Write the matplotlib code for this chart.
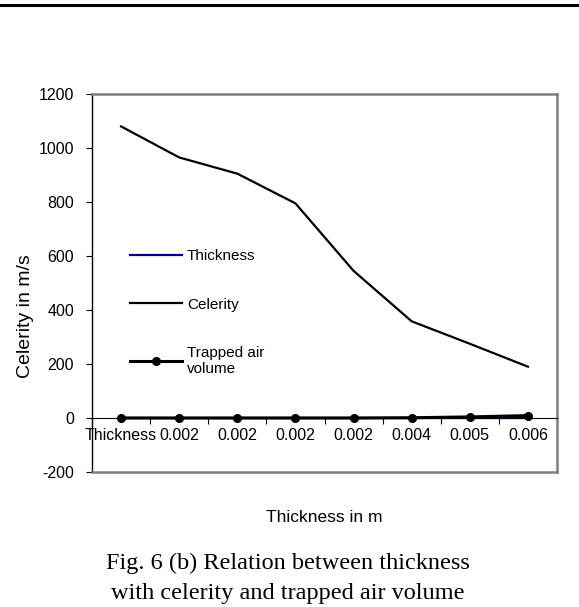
import matplotlib
matplotlib.use("Agg")
import matplotlib.pyplot as plt
from matplotlib.lines import Line2D

categories = ["Thickness", "0.002", "0.002", "0.002", "0.002", "0.004", "0.005", "0.006"]
thickness = [0, 0.002, 0.002, 0.002, 0.002, 0.004, 0.005, 0.006]
celerity = [1080, 965, 905, 795, 545, 358, 275, 190]
trapped_air = [0, 0, 0, 0, 0, 1, 4, 9]
y_ticks = [-200, 0, 200, 400, 600, 800, 1000, 1200]

W, H = 579, 607
fig = plt.figure(figsize=(W / 100, H / 100), dpi=100)
plt.rcParams['font.family'] = ['Liberation Sans', 'DejaVu Sans']

# top rule
fig.add_artist(Line2D([0, 1], [1 - 5 / H, 1 - 5 / H], color='black', lw=2.2,
                      transform=fig.transFigure))

L, R, T, B = 92, 557, 94, 472
ax = fig.add_axes([L / W, 1 - B / H, (R - L) / W, (B - T) / H])

x = list(range(len(categories)))
ax.plot(x, thickness, color='#000080', lw=1.6, label='Thickness')
ax.plot(x, celerity, color='black', lw=1.6, label='Celerity')
ax.plot(x, trapped_air, color='black', lw=2.2, marker='o', markersize=5.5,
        label='Trapped air\nvolume')

ax.set_xlim(-0.5, len(categories) - 0.5)
ax.set_ylim(-200, 1200)
ax.set_yticks(y_ticks)
ax.set_yticklabels([str(v) for v in y_ticks], fontsize=11.5)
ax.tick_params(axis='y', direction='out', length=4, width=0.8, pad=9)

# x axis at y = 0
ax.spines['bottom'].set_position(('data', 0))
ax.spines['bottom'].set_color('black')
ax.spines['bottom'].set_linewidth(0.8)
ax.set_xticks([i - 0.5 for i in range(len(categories) + 1)])
ax.set_xticklabels([])
ax.set_xticks(x, minor=True)
ax.set_xticklabels(categories, minor=True, fontsize=11.5)
ax.tick_params(axis='x', which='major', direction='out', length=4, width=0.8)
ax.tick_params(axis='x', which='minor', length=0, pad=7)

ax.spines['left'].set_color('black')
ax.spines['left'].set_linewidth(1.0)
for s in ['top', 'right']:
    ax.spines[s].set_color('#808080')
    ax.spines[s].set_linewidth(1.8)
ax.axhline(-200, color='#808080', lw=1.8, clip_on=False, zorder=5)

leg = ax.legend(loc='upper left', bbox_to_anchor=(0.068, 0.605), frameon=False,
                fontsize=11, handlelength=3.4, handletextpad=0.35,
                labelspacing=2.25, borderaxespad=0)

fig.text(25 / W, 1 - 316 / H, 'Celerity in m/s', rotation=90, ha='center',
         va='center', fontsize=14)
fig.text((L + R) / 2 / W, 1 - 517 / H, 'Thickness in m', ha='center', va='center',
         fontsize=12.5)
fig.text(288 / W, 1 - 563 / H, 'Fig. 6 (b) Relation between thickness',
         ha='center', va='center', fontsize=17.5, family=['Liberation Serif'])
fig.text(288 / W, 1 - 594 / H, 'with celerity and trapped air volume',
         ha='center', va='center', fontsize=17.5, family=['Liberation Serif'])

fig.savefig('out.png', dpi=100)
